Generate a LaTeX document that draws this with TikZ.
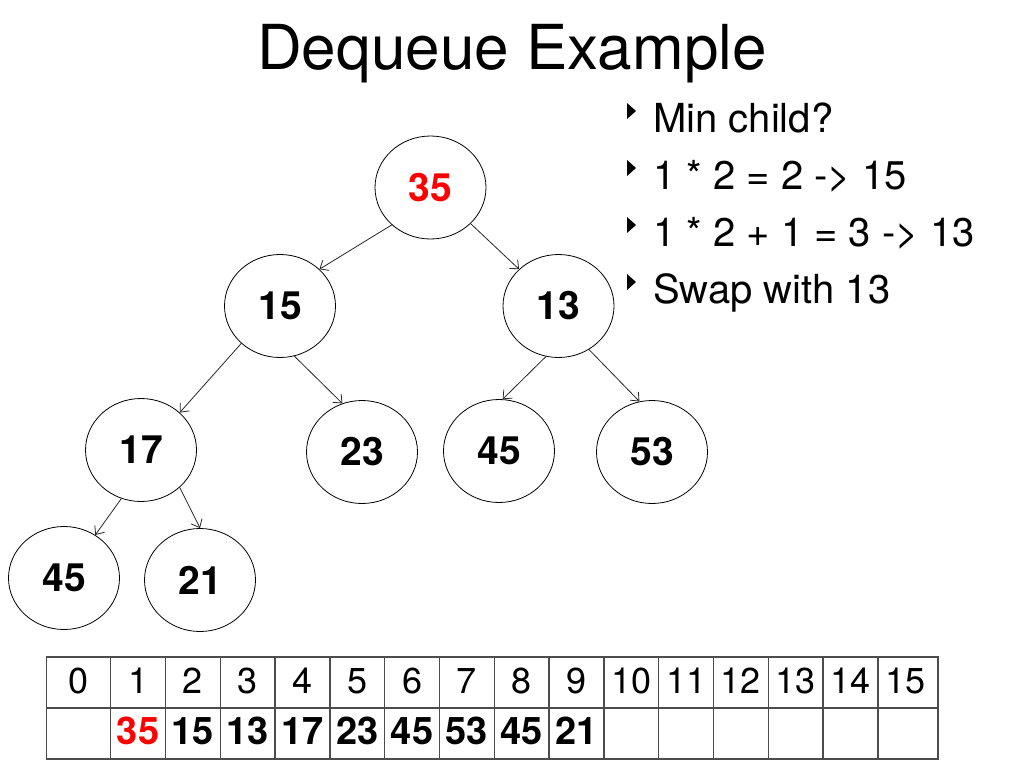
\documentclass[tikz,border=0pt]{standalone}
\usepackage{fontspec}
\setmainfont{TeX Gyre Heros}
\usetikzlibrary{shapes.geometric,arrows.meta}

\begin{document}
\begin{tikzpicture}[x=1pt, y=-1pt,
    heapnode/.style={draw, ellipse, line width=0.8pt, minimum width=111pt, minimum height=103pt, inner sep=0pt, font=\fontsize{39}{39}\selectfont\bfseries},
    heapedge/.style={-{Straight Barb[length=7pt,width=12pt]}, line width=0.8pt, black!85},
    tablegrid/.style={line width=1.3pt, black!70},
    bullettext/.style={anchor=base west, inner sep=0pt, font=\fontsize{40}{40}\selectfont}]
    \useasboundingbox (0,0) rectangle (1024,768);

    % Title
    \node[anchor=base, inner sep=0pt, font=\fontsize{62}{62}\selectfont] (title) at (512,70) {Dequeue Example};

    % Heap nodes
    \node[heapnode, text=red] (h1) at (430.5,187.5) {35};
    \node[heapnode] (h2) at (280,306) {15};
    \node[heapnode] (h3) at (558.5,306) {13};
    \node[heapnode] (h4) at (141,450) {17};
    \node[heapnode] (h5) at (362,452) {23};
    \node[heapnode] (h6) at (499,451) {45};
    \node[heapnode] (h7) at (652,452) {53};
    \node[heapnode] (h8) at (64,578) {45};
    \node[heapnode] (h9) at (200,580) {21};

    % Draw edges
    \draw[heapedge] (h1.224) -- (h2.43);
    \draw[heapedge] (h1.318) -- (h3.137);
    \draw[heapedge] (h2.224) -- (h4.44);
    \draw[heapedge] (h2.286) -- (h5.112);
    \draw[heapedge] (h3.256) -- (h6.86);
    \draw[heapedge] (h3.305) -- (h7.104);
    \draw[heapedge] (h4.248) -- (h8.54);
    \draw[heapedge] (h4.316) -- (h9.90);

    % Bullet list
    \foreach \t [count=\k from 0] in {Min child?, 1 * 2 = 2 -> 15, 1 * 2 + 1 = 3 -> 13, Swap with 13} {
        \pgfmathsetmacro{\yb}{132+57*\k}
        \fill (627,\yb-29) -- (636,\yb-21) -- (627,\yb-13) -- cycle;
        \node[bullettext] (bul\k) at (653,\yb) {\t};
    }

    % Draw the array
    \draw[tablegrid] (46.7,657) rectangle (938,759);
    \draw[tablegrid] (46.7,708) -- (938,708);
    \draw[tablegrid] (110.7,657) -- (110.7,759);
    \foreach \i in {1,...,14}
        \draw[tablegrid] ({110.7+54.8*\i},657) -- ({110.7+54.8*\i},759);

    % Indices
    \node[anchor=base, inner sep=0pt, font=\fontsize{36}{36}\selectfont] (idx0) at (79,693) {0};
    \foreach \i in {1,...,15} {
        \pgfmathsetmacro{\xc}{110.7+54.8*(\i-0.5)}
        \node[anchor=base, inner sep=0pt, font=\fontsize{36}{36}\selectfont] (idx\i) at (\xc,693) {\i};
    }

    % Values
    \foreach \v [count=\i from 1] in {35,15,13,17,23,45,53,45,21} {
        \pgfmathsetmacro{\xc}{110.7+54.8*(\i-0.5)}
        \ifnum\i=1 \def\vcol{red}\else\def\vcol{black}\fi
        \node[anchor=base, inner sep=0pt, text=\vcol, font=\fontsize{38}{38}\selectfont\bfseries] (val\i) at (\xc,744) {\v};
    }
\end{tikzpicture}
\end{document}
